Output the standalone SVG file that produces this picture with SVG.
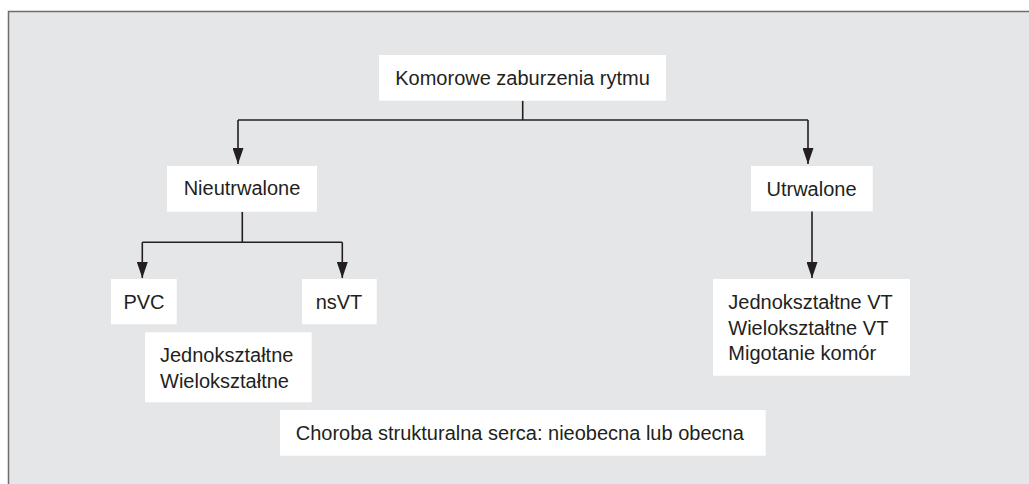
<svg xmlns="http://www.w3.org/2000/svg" width="1029" height="484" viewBox="0 0 1029 484">
<style>
.box{fill:#ffffff}
.t{font-family:"Liberation Sans",Arial,sans-serif;font-size:20px;fill:#231f20}
.c{text-anchor:middle}
.ln{fill:none;stroke:#231f20;stroke-width:1.6}
</style>
<defs>
<marker id="arr" markerUnits="userSpaceOnUse" markerWidth="16" markerHeight="11" refX="16" refY="5.5" orient="auto" viewBox="0 0 16 11">
<path d="M0,0 L16,5.5 L0,11 Z" fill="#231f20"/>
</marker>
</defs>
<rect x="8.5" y="11.5" width="1030" height="480" fill="#e5e6e8" stroke="#6d6e70" stroke-width="1.5"/>
<g id="connectors">
<path class="ln" d="M522.7,100.7 V120"/>
<path class="ln" d="M238,120 H808"/>
<path class="ln" d="M238,120 V164" marker-end="url(#arr)"/>
<path class="ln" d="M808,120 V164" marker-end="url(#arr)"/>
<path class="ln" d="M242.3,211.7 V242.3 M142.3,242.3 H342.3"/>
<path class="ln" d="M142.3,242.3 V278" marker-end="url(#arr)"/>
<path class="ln" d="M342.3,242.3 V278" marker-end="url(#arr)"/>
<path class="ln" d="M812,211.3 V278" marker-end="url(#arr)"/>
</g>
<g id="n-root">
<rect class="box" x="379" y="55" width="287" height="45.7"/>
<text class="t c" x="522.5" y="85">Komorowe zaburzenia rytmu</text>
</g>
<g id="n-nieutrwalone">
<rect class="box" x="167" y="166" width="150" height="45.7"/>
<text class="t c" x="242" y="195">Nieutrwalone</text>
</g>
<g id="n-utrwalone">
<rect class="box" x="751" y="166" width="121.7" height="45.3"/>
<text class="t c" x="811.5" y="196">Utrwalone</text>
</g>
<g id="n-pvc">
<rect class="box" x="111" y="279" width="65.7" height="45.3"/>
<text class="t c" x="144" y="309">PVC</text>
</g>
<g id="n-nsvt">
<rect class="box" x="302" y="279" width="74.7" height="45.3"/>
<text class="t c" x="339" y="309">nsVT</text>
</g>
<g id="n-pvc-types">
<rect class="box" x="145" y="332.3" width="166.7" height="70"/>
<text class="t" x="160" y="362">Jednokształtne</text>
<text class="t" x="160" y="387.5">Wielokształtne</text>
</g>
<g id="n-sustained-types">
<rect class="box" x="713" y="279" width="197" height="96.7"/>
<text class="t" x="728.3" y="309">Jednokształtne VT</text>
<text class="t" x="728.3" y="334.5">Wielokształtne VT</text>
<text class="t" x="728.3" y="360">Migotanie komór</text>
</g>
<g id="n-choroba">
<rect class="box" x="280" y="410" width="485.7" height="45.7"/>
<text class="t" x="295.7" y="439.5">Choroba strukturalna serca: nieobecna lub obecna</text>
</g>
</svg>
